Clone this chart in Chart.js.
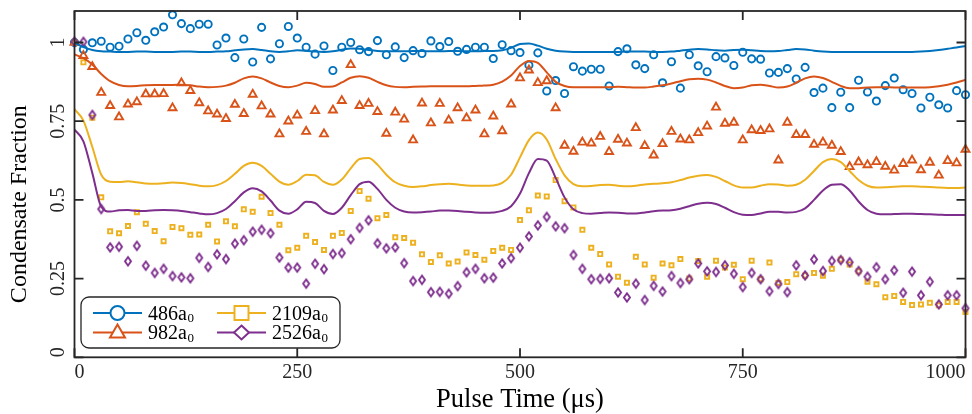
<!DOCTYPE html>
<html lang="en">
<head>
<meta charset="UTF-8">
<title>Condensate Fraction vs Pulse Time</title>
<style>
  html, body { margin: 0; padding: 0; background: #fff; }
  #chart { display: block; }
</style>
</head>
<body>
<canvas id="chart" width="972" height="414"></canvas>

<script src="https://cdn.jsdelivr.net/npm/chart.js"></script>
<script>
// pulse times (us), one sample every 10 us
const pulseTime = [
  0, 10, 20, 30, 40, 50, 60, 70, 80, 90,
  100, 110, 120, 130, 140, 150, 160, 170, 180, 190,
  200, 210, 220, 230, 240, 250, 260, 270, 280, 290,
  300, 310, 320, 330, 340, 350, 360, 370, 380, 390,
  400, 410, 420, 430, 440, 450, 460, 470, 480, 490,
  500, 510, 520, 530, 540, 550, 560, 570, 580, 590,
  600, 610, 620, 630, 640, 650, 660, 670, 680, 690,
  700, 710, 720, 730, 740, 750, 760, 770, 780, 790,
  800, 810, 820, 830, 840, 850, 860, 870, 880, 890,
  900, 910, 920, 930, 940, 950, 960, 970, 980, 990,
  1000
];

// measured condensate fraction
const cond486 = [
  1.000, 0.978, 0.999, 1.004, 0.985, 0.988, 1.011, 1.031, 1.007, 1.034,
  1.049, 1.088, 1.060, 1.044, 1.058, 1.058, 0.992, 1.014, 0.952, 1.011,
  0.938, 1.048, 0.948, 0.996, 1.051, 1.014, 0.985, 0.963, 0.989, 0.911,
  0.985, 1.000, 0.977, 0.971, 1.006, 0.961, 0.986, 0.952, 0.974, 0.965,
  1.005, 0.987, 1.003, 0.972, 0.978, 0.985, 0.985, 0.949, 0.993, 0.974,
  0.968, 0.928, 0.967, 0.846, 0.879, 0.838, 0.923, 0.909, 0.915, 0.915,
  0.862, 0.971, 0.980, 0.929, 0.917, 0.961, 0.872, 0.939, 0.855, 0.961,
  0.926, 0.907, 0.955, 0.951, 0.927, 0.969, 0.948, 0.947, 0.903, 0.905,
  0.917, 0.884, 0.921, 0.841, 0.855, 0.793, 0.842, 0.793, 0.880, 0.843,
  0.814, 0.863, 0.887, 0.850, 0.838, 0.792, 0.826, 0.802, 0.792, 0.847,
  0.834
];
const cond982 = [
  1.000, 0.958, 0.923, 0.841, 0.799, 0.763, 0.804, 0.811, 0.836, 0.836,
  0.837, 0.792, 0.871, 0.847, 0.808, 0.782, 0.772, 0.758, 0.803, 0.774,
  0.835, 0.798, 0.772, 0.709, 0.750, 0.769, 0.717, 0.783, 0.709, 0.785,
  0.815, 0.929, 0.799, 0.806, 0.780, 0.711, 0.778, 0.756, 0.690, 0.807,
  0.744, 0.806, 0.753, 0.792, 0.760, 0.785, 0.709, 0.766, 0.719, 0.804,
  0.887, 0.912, 0.872, 0.878, 0.792, 0.673, 0.654, 0.683, 0.680, 0.701,
  0.653, 0.692, 0.680, 0.729, 0.672, 0.642, 0.678, 0.717, 0.693, 0.690,
  0.713, 0.734, 0.794, 0.743, 0.746, 0.690, 0.722, 0.720, 0.725, 0.626,
  0.746, 0.707, 0.707, 0.676, 0.683, 0.673, 0.653, 0.605, 0.620, 0.611,
  0.621, 0.606, 0.594, 0.615, 0.626, 0.595, 0.619, 0.578, 0.624, 0.617,
  0.660
];
const cond2109 = [
  1.000, 0.937, 0.761, 0.508, 0.400, 0.394, 0.417, 0.461, 0.424, 0.401,
  0.369, 0.414, 0.410, 0.389, 0.390, 0.421, 0.368, 0.432, 0.416, 0.470,
  0.462, 0.510, 0.458, 0.421, 0.340, 0.348, 0.386, 0.366, 0.341, 0.386,
  0.395, 0.465, 0.528, 0.504, 0.442, 0.452, 0.381, 0.379, 0.364, 0.327,
  0.303, 0.324, 0.298, 0.304, 0.333, 0.325, 0.310, 0.338, 0.348, 0.341,
  0.436, 0.467, 0.514, 0.511, 0.563, 0.496, 0.476, 0.405, 0.348, 0.328,
  0.295, 0.256, 0.237, 0.319, 0.295, 0.253, 0.298, 0.292, 0.312, 0.250,
  0.306, 0.256, 0.307, 0.285, 0.294, 0.248, 0.307, 0.248, 0.301, 0.236,
  0.239, 0.264, 0.260, 0.268, 0.259, 0.281, 0.311, 0.295, 0.273, 0.240,
  0.232, 0.191, 0.195, 0.176, 0.166, 0.168, 0.173, 0.165, 0.176, 0.176,
  0.144
];
const cond2526 = [
  1.002, 1.002, 0.770, 0.471, 0.349, 0.351, 0.305, 0.354, 0.291, 0.268,
  0.281, 0.258, 0.254, 0.251, 0.316, 0.287, 0.327, 0.312, 0.361, 0.372,
  0.399, 0.405, 0.394, 0.317, 0.285, 0.285, 0.234, 0.297, 0.280, 0.328,
  0.331, 0.375, 0.411, 0.435, 0.362, 0.346, 0.349, 0.299, 0.242, 0.246,
  0.207, 0.208, 0.202, 0.226, 0.270, 0.281, 0.251, 0.253, 0.298, 0.315,
  0.348, 0.384, 0.419, 0.446, 0.416, 0.410, 0.325, 0.281, 0.248, 0.249,
  0.251, 0.206, 0.190, 0.234, 0.182, 0.227, 0.209, 0.258, 0.236, 0.248,
  0.298, 0.273, 0.271, 0.292, 0.265, 0.223, 0.268, 0.248, 0.210, 0.233,
  0.207, 0.292, 0.260, 0.311, 0.274, 0.306, 0.309, 0.302, 0.274, 0.256,
  0.286, 0.248, 0.276, 0.205, 0.272, 0.197, 0.240, 0.168, 0.197, 0.197,
  0.156
];

// theory curves, read at the same times
const fit486 = [
  1.000, 0.985, 0.976, 0.972, 0.971, 0.970, 0.970, 0.971, 0.971, 0.970,
  0.970, 0.970, 0.971, 0.971, 0.970, 0.970, 0.971, 0.972, 0.975, 0.978,
  0.979, 0.976, 0.972, 0.970, 0.972, 0.975, 0.974, 0.971, 0.970, 0.972,
  0.977, 0.981, 0.980, 0.976, 0.973, 0.972, 0.972, 0.972, 0.973, 0.973,
  0.972, 0.972, 0.973, 0.973, 0.972, 0.972, 0.973, 0.973, 0.975, 0.983,
  0.995, 0.997, 0.990, 0.980, 0.974, 0.971, 0.970, 0.970, 0.970, 0.970,
  0.970, 0.970, 0.971, 0.971, 0.971, 0.970, 0.970, 0.971, 0.974, 0.977,
  0.979, 0.978, 0.975, 0.974, 0.976, 0.977, 0.975, 0.973, 0.972, 0.973,
  0.976, 0.979, 0.978, 0.974, 0.971, 0.970, 0.970, 0.970, 0.970, 0.970,
  0.970, 0.970, 0.970, 0.970, 0.970, 0.971, 0.973, 0.976, 0.980, 0.984,
  0.989
];
const fit982 = [
  0.962, 0.950, 0.930, 0.900, 0.877, 0.865, 0.861, 0.862, 0.864, 0.865,
  0.865, 0.865, 0.866, 0.864, 0.860, 0.858, 0.859, 0.863, 0.872, 0.886,
  0.892, 0.886, 0.873, 0.862, 0.858, 0.863, 0.872, 0.868, 0.859, 0.860,
  0.873, 0.888, 0.893, 0.888, 0.875, 0.864, 0.859, 0.858, 0.859, 0.860,
  0.861, 0.861, 0.861, 0.861, 0.861, 0.862, 0.863, 0.866, 0.876, 0.895,
  0.925, 0.941, 0.935, 0.905, 0.875, 0.862, 0.858, 0.858, 0.858, 0.858,
  0.858, 0.859, 0.858, 0.857, 0.857, 0.860, 0.864, 0.870, 0.877, 0.883,
  0.885, 0.882, 0.873, 0.862, 0.855, 0.857, 0.864, 0.866, 0.862, 0.857,
  0.860, 0.872, 0.886, 0.892, 0.887, 0.875, 0.862, 0.855, 0.855, 0.857,
  0.858, 0.858, 0.857, 0.857, 0.857, 0.857, 0.858, 0.861, 0.866, 0.873,
  0.881
];
const fit2109 = [
  0.788, 0.752, 0.668, 0.580, 0.558, 0.557, 0.559, 0.556, 0.552, 0.551,
  0.553, 0.555, 0.554, 0.550, 0.545, 0.543, 0.547, 0.560, 0.583, 0.608,
  0.618, 0.608, 0.583, 0.558, 0.548, 0.560, 0.580, 0.578, 0.557, 0.548,
  0.565, 0.600, 0.630, 0.633, 0.612, 0.580, 0.556, 0.545, 0.541, 0.543,
  0.547, 0.550, 0.551, 0.549, 0.546, 0.545, 0.545, 0.546, 0.554, 0.580,
  0.635, 0.690, 0.714, 0.692, 0.630, 0.578, 0.550, 0.543, 0.544, 0.547,
  0.548, 0.545, 0.543, 0.545, 0.549, 0.551, 0.553, 0.556, 0.563, 0.571,
  0.577, 0.579, 0.573, 0.560, 0.546, 0.539, 0.539, 0.545, 0.550, 0.549,
  0.545, 0.548, 0.564, 0.592, 0.620, 0.630, 0.620, 0.592, 0.563, 0.545,
  0.539, 0.540, 0.542, 0.543, 0.543, 0.542, 0.541, 0.539, 0.538, 0.538,
  0.539
];
const fit2526 = [
  0.723, 0.686, 0.585, 0.478, 0.463, 0.467, 0.468, 0.465, 0.465, 0.467,
  0.468, 0.467, 0.465, 0.461, 0.457, 0.454, 0.458, 0.471, 0.496, 0.524,
  0.537, 0.527, 0.498, 0.466, 0.456, 0.470, 0.494, 0.490, 0.465, 0.455,
  0.475, 0.515, 0.550, 0.558, 0.535, 0.500, 0.475, 0.463, 0.460, 0.461,
  0.463, 0.466, 0.466, 0.465, 0.462, 0.460, 0.459, 0.460, 0.465, 0.480,
  0.520, 0.585, 0.630, 0.625, 0.570, 0.508, 0.470, 0.458, 0.456, 0.458,
  0.460, 0.459, 0.457, 0.457, 0.460, 0.464, 0.466, 0.467, 0.472, 0.480,
  0.488, 0.491, 0.487, 0.475, 0.461, 0.453, 0.452, 0.457, 0.462, 0.462,
  0.460, 0.462, 0.473, 0.500, 0.530, 0.548, 0.550, 0.530, 0.495, 0.468,
  0.456, 0.454, 0.455, 0.456, 0.456, 0.455, 0.454, 0.453, 0.452, 0.452,
  0.452
];

const xTicks = [0, 250, 500, 750, 1000];
const yTicks = [0, 0.25, 0.5, 0.75, 1];
const legendNames = ['486a', '982a', '2109a', '2526a'];

const colors = ['#0072BD', '#D95319', '#EDB120', '#7E2F8E'];
const axisColor = '#262626';
const serif = '"Liberation Serif", "Times New Roman", serif';

const pts = ys => ys.map((v, i) => ({x: pulseTime[i], y: v}));

// open diamond marker, a bit taller than wide
function diamondMarker(color, hw, hh, lw) {
    const c = document.createElement('canvas');
    c.width = Math.ceil(2 * hw + lw + 2);
    c.height = Math.ceil(2 * hh + lw + 2);
    const g = c.getContext('2d');
    const cx = c.width / 2, cy = c.height / 2;
    g.strokeStyle = color;
    g.lineWidth = lw;
    g.beginPath();
    g.moveTo(cx, cy - hh);
    g.lineTo(cx + hw, cy);
    g.lineTo(cx, cy + hh);
    g.lineTo(cx - hw, cy);
    g.closePath();
    g.stroke();
    return c;
}

const markerSet = (data, color, style, radius, order) => ({
    data: pts(data),
    showLine: false,
    pointStyle: style,
    pointRadius: radius,
    pointBorderWidth: 1.9,
    pointBorderColor: color,
    pointBackgroundColor: 'rgba(0,0,0,0)',
    borderColor: color,
    clip: false,
    order: order
});

const fitLine = (data, color, order) => ({
    data: pts(data),
    showLine: true,
    pointRadius: 0,
    borderColor: color,
    borderWidth: 2,
    cubicInterpolationMode: 'monotone',
    order: order
});

// frame with inward ticks, rotated y labels, y title and legend box
const figureDecor = {
    id: 'figureDecor',
    afterDraw(chart) {
        const {ctx, chartArea: a, scales: {x, y}} = chart;
        ctx.save();

        ctx.strokeStyle = axisColor;
        ctx.lineWidth = 1.8;
        ctx.strokeRect(a.left, a.top, a.right - a.left, a.bottom - a.top);
        ctx.beginPath();
        x.ticks.forEach(t => {
            const px = x.getPixelForValue(t.value);
            ctx.moveTo(px, a.bottom); ctx.lineTo(px, a.bottom - 9);
            ctx.moveTo(px, a.top); ctx.lineTo(px, a.top + 9);
        });
        y.ticks.forEach(t => {
            const py = y.getPixelForValue(t.value);
            ctx.moveTo(a.left, py); ctx.lineTo(a.left + 9, py);
            ctx.moveTo(a.right, py); ctx.lineTo(a.right - 9, py);
        });
        ctx.stroke();

        // y tick labels, reading bottom to top
        ctx.fillStyle = axisColor;
        ctx.font = '20px ' + serif;
        ctx.textAlign = 'center';
        ctx.textBaseline = 'middle';
        y.ticks.forEach(t => {
            const label = String(t.value);
            const w = ctx.measureText(label).width;
            let py = y.getPixelForValue(t.value);
            py = Math.min(Math.max(py, a.top + w / 2), a.bottom - w / 2);
            ctx.save();
            ctx.translate(a.left - 15.5, py);
            ctx.rotate(-Math.PI / 2);
            ctx.fillText(label, 0, 0);
            ctx.restore();
        });

        // y title
        ctx.save();
        ctx.fillStyle = '#000';
        ctx.font = '24px ' + serif;
        ctx.translate(20, (a.top + a.bottom) / 2 + 20);
        ctx.rotate(-Math.PI / 2);
        ctx.fillText('Condensate Fraction', 0, 0);
        ctx.restore();

        // legend
        const bx = 81, by = 297, bw = 259, bh = 51, r = 8;
        ctx.beginPath();
        ctx.roundRect(bx, by, bw, bh, r);
        ctx.fillStyle = '#fff';
        ctx.fill();
        ctx.lineWidth = 1.3;
        ctx.strokeStyle = axisColor;
        ctx.stroke();

        const cols = [93, 217];
        const rows = [313, 332.5];
        const shapes = ['circle', 'triangle', 'square', 'diamond'];
        const place = [[0, 0], [0, 1], [1, 0], [1, 1]];
        legendNames.forEach((name, i) => {
            const lx = cols[place[i][0]], ly = rows[place[i][1]];
            const col = colors[i];
            ctx.strokeStyle = col;
            ctx.lineWidth = 2;
            ctx.beginPath();
            ctx.moveTo(lx, ly); ctx.lineTo(lx + 49, ly);
            ctx.stroke();
            const mx = lx + 24.5;
            ctx.beginPath();
            if (shapes[i] === 'circle') {
                ctx.arc(mx, ly, 7, 0, Math.PI * 2);
            } else if (shapes[i] === 'triangle') {
                ctx.moveTo(mx, ly - 8);
                ctx.lineTo(mx + 7.5, ly + 5);
                ctx.lineTo(mx - 7.5, ly + 5);
                ctx.closePath();
            } else if (shapes[i] === 'square') {
                ctx.rect(mx - 7, ly - 7, 14, 14);
            } else {
                ctx.moveTo(mx, ly - 7);
                ctx.lineTo(mx + 7.5, ly);
                ctx.lineTo(mx, ly + 7);
                ctx.lineTo(mx - 7.5, ly);
                ctx.closePath();
            }
            ctx.fillStyle = '#fff';
            ctx.fill();
            ctx.stroke();

            ctx.fillStyle = '#000';
            ctx.textAlign = 'left';
            ctx.textBaseline = 'alphabetic';
            ctx.font = '20px ' + serif;
            const tx = lx + 55, base = ly + 6.5;
            ctx.fillText(name, tx, base);
            const w = ctx.measureText(name).width;
            ctx.font = '13px ' + serif;
            ctx.fillText('0', tx + w + 0.5, base + 2.5);
        });

        ctx.restore();
    }
};

const config = {
    type: 'scatter',
    data: {
        datasets: [
            markerSet(cond486, colors[0], 'circle', 3.6, 8),
            markerSet(cond982, colors[1], 'triangle', 4.6, 7),
            markerSet(cond2109, colors[2], 'rect', 2.9, 6),
            markerSet(cond2526, colors[3], diamondMarker(colors[3], 3, 4.2, 1.9), 4, 5),
            fitLine(fit486, colors[0], 4),
            fitLine(fit982, colors[1], 3),
            fitLine(fit2109, colors[2], 2),
            fitLine(fit2526, colors[3], 1)
        ]
    },
    options: {
        responsive: false,
        animation: false,
        devicePixelRatio: 1,
        events: [],
        layout: {padding: {left: 0, right: 3, top: 11, bottom: 0}},
        plugins: {legend: {display: false}, tooltip: {enabled: false}},
        scales: {
            x: {
                type: 'linear',
                min: 0,
                max: 1000,
                afterBuildTicks: s => { s.ticks = xTicks.map(v => ({value: v})); },
                afterFit: s => { s.height = 56.7; s.paddingLeft = 0; s.paddingRight = 0; },
                grid: {display: false, drawTicks: false},
                border: {display: false},
                ticks: {
                    align: 'inner',
                    padding: 3,
                    color: axisColor,
                    maxRotation: 0,
                    autoSkip: false,
                    font: {family: serif, size: 20},
                    callback: v => String(v)
                },
                title: {
                    display: true,
                    text: 'Pulse Time (μs)',
                    color: '#000',
                    font: {family: serif, size: 26.5, lineHeight: 1},
                    padding: {top: 0, bottom: 0.5}
                }
            },
            y: {
                type: 'linear',
                min: 0,
                max: 1.1,
                afterBuildTicks: s => { s.ticks = yTicks.map(v => ({value: v})); },
                afterFit: s => { s.width = 74.5; s.paddingTop = 0; s.paddingBottom = 0; },
                grid: {display: false, drawTicks: false},
                border: {display: false},
                ticks: {display: false},
                title: {display: false}
            }
        }
    },
    plugins: [figureDecor]
};

new Chart(document.getElementById('chart'), config);
</script>
</body>
</html>
